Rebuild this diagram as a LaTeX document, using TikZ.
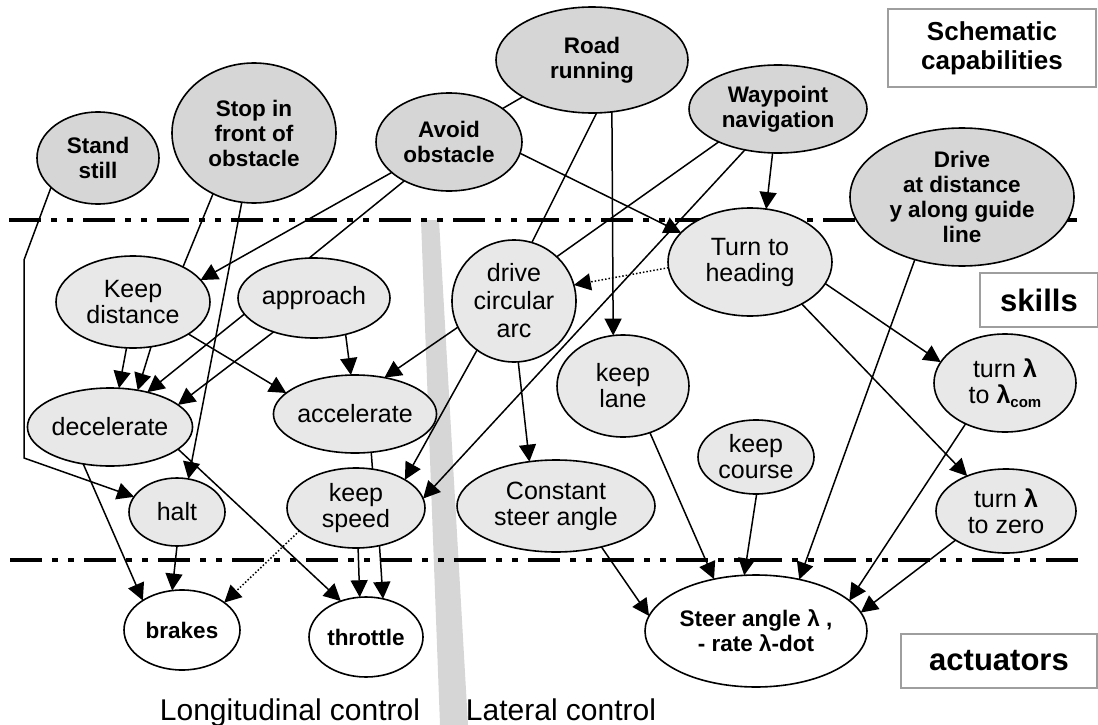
\documentclass[tikz,border=0pt]{standalone}
\usepackage{fontspec}
\setmainfont{Liberation Sans}
\usetikzlibrary{shapes.geometric,arrows.meta}

\newcommand\fsz[2]{\fontsize{#1}{#2}\selectfont}
\newcommand\lam{{\bfseries λ}}
\definecolor{capfill}{gray}{0.84}
\definecolor{sklfill}{gray}{0.91}

\begin{document}
\begin{tikzpicture}[x=1pt,y=-1pt,
  every node/.style={inner sep=0pt, outer sep=0pt, align=center},
  bub/.style={ellipse, draw=black, line width=1.6pt},
  capbub/.style={bub, fill=capfill, font=\fsz{22.5}{25}\bfseries},
  sklbub/.style={bub, fill=sklfill, font=\fsz{25}{26}},
  actbub/.style={bub, fill=white, font=\fsz{22.5}{25}\bfseries},
  link/.style={line width=1.5pt},
  arr/.style={link, -{Triangle[length=17pt,width=17pt]}},
  darr/.style={arr, dotted},
  lvl/.style={line width=4pt, dash pattern=on 32pt off 10pt on 6pt off 10pt on 6pt off 10pt},
  tagbox/.style={draw=black!38, line width=1.5pt, fill=white}
]
\useasboundingbox (0,0) rectangle (1098,725);

% band separating longitudinal and lateral control
\fill[black!16] (421,220) -- (439,220) -- (468,725) -- (440,725) -- cycle;

% level separators
\draw[lvl] (9,220) -- (1082,220);
\draw[lvl] (10,560) -- (1085,560);

% level labels
\node[tagbox, minimum width=208pt, minimum height=78pt, font=\fsz{26}{29}\bfseries] (lblcap) at (992,48) {Schematic\\capabilities};
\node[tagbox, minimum width=118pt, minimum height=54pt, font=\fsz{31}{32}\bfseries] (lblskl) at (1039,300) {skills};
\node[tagbox, minimum width=196pt, minimum height=54pt, font=\fsz{31}{32}\bfseries] (lblact) at (999,661) {actuators};

% schematic capabilities
\node[capbub, minimum width=122pt, minimum height=92pt]  (ss) at (98,158)  {Stand\\still};
\node[capbub, minimum width=164pt, minimum height=140pt] (sf) at (254,133) {Stop in\\front of\\obstacle};
\node[capbub, minimum width=146pt, minimum height=98pt]  (ao) at (449,142) {Avoid\\obstacle};
\node[capbub, minimum width=192pt, minimum height=106pt] (rr) at (592,60)  {Road\\running};
\node[capbub, minimum width=178pt, minimum height=88pt]  (wn) at (778,109) {Waypoint\\navigation};
\node[capbub, minimum width=224pt, minimum height=138pt] (dd) at (962,197) {Drive\\at distance\\y along guide\\line};

% skills
\node[sklbub, minimum width=154pt, minimum height=92pt]  (kd) at (133,302) {Keep\\distance};
\node[sklbub, minimum width=152pt, minimum height=80pt]  (ap) at (314,298) {approach};
\node[sklbub, minimum width=124pt, minimum height=122pt, font=\fsz{25}{28}] (dc) at (514,301) {drive\\circular\\arc};
\node[sklbub, minimum width=164pt, minimum height=108pt] (th) at (750,262) {Turn to\\heading};
\node[sklbub, minimum width=150pt, minimum height=78pt]  (de) at (110,427) {decelerate};
\node[sklbub, minimum width=152pt, minimum height=78pt]  (ac) at (355,414) {accelerate};
\node[sklbub, minimum width=132pt, minimum height=102pt] (kl) at (623,386) {keep\\lane};
\node[sklbub, minimum width=142pt, minimum height=98pt]  (tc) at (1005,383) {turn \lam\\to \lam\raisebox{-4pt}{\fsz{15}{15}\bfseries com}};
\node[sklbub, minimum width=96pt,  minimum height=68pt]  (ha) at (177,512) {halt};
\node[sklbub, minimum width=138pt, minimum height=80pt]  (ks) at (356,508) {keep\\speed};
\node[sklbub, minimum width=198pt, minimum height=92pt]  (cs) at (556,506) {Constant\\steer angle};
\node[sklbub, minimum width=116pt, minimum height=74pt]  (kc) at (756,457) {keep\\course};
\node[sklbub, minimum width=140pt, minimum height=84pt]  (tz) at (1006,511) {turn \lam\\to zero};

% actuators
\node[actbub, minimum width=116pt, minimum height=80pt]  (br) at (182,630) {brakes};
\node[actbub, minimum width=114pt, minimum height=80pt]  (tr) at (366,637) {throttle};
\node[actbub, minimum width=222pt, minimum height=112pt] (sa) at (756,631) {Steer angle λ ,\\- rate λ-dot};

% control domains
\node[font=\fsz{30}{32}, anchor=base] (lon) at (290,720) {Longitudinal control};
\node[font=\fsz{30}{32}, anchor=base] (lat) at (561,720) {Lateral control};

% routing points of the stand-still link
\coordinate (b1) at (24,260);
\coordinate (b2) at (24,458);

% links from schematic capabilities
\draw[arr]  (ss.212) -- (b1) -- (b2) -- (ha);
\draw[link] (sf.236) -- (kd.35);
\draw[arr]  (sf.260) -- (ha.71);
\draw[arr]  (ao.208) -- (kd.18);
\draw[link] (ao.221) -- (ap.97);
\draw[arr]  (ao.351) -- (th.157);
\draw[link] (rr.208) -- (ao.32);
\draw[link] (rr.275) -- (dc.73);
\draw[arr]  (rr.291) -- (kl.101);
\draw[link] (wn.209) -- (dc.46);
\draw[arr]  (wn.231) -- (ks.8);
\draw[arr]  (wn.263) -- (th.73);
\draw[arr]  (dd.233) -- (sa.50);

% links between skills
\draw[darr] (th.184) -- (dc.15);
\draw[arr]  (th.344) -- (tc.162);
\draw[arr]  (th.321) -- (tz.138);
\draw[arr]  (dc.205) -- (ac.51);
\draw[arr]  (dc.233) -- (ks.30);
\draw[arr]  (dc.274) -- (cs.121);
\draw[arr]  (kd.262) -- (de.77);
\draw[arr]  (kd.292) -- (de.53);
\draw[arr]  (kd.330) -- (ac.163);
\draw[arr]  (ap.193) -- (de.43);
\draw[arr]  (ap.220) -- (de.18);
\draw[arr]  (ap.311) -- (ac.96);
\draw[link] (ac.293) -- (ks.67);

% links to actuators
\draw[arr]  (de.234) -- (br.143);
\draw[arr]  (de.342) -- (tr.125);
\draw[arr]  (ha.270) -- (br.104);
\draw[darr] (ks.202) -- (br.33);
\draw[arr]  (ks.273) -- (tr.99);
\draw[arr]  (ks.302) -- (tr.66);
\draw[arr]  (kl.300) -- (sa.129);
\draw[arr]  (kc.271) -- (sa.102);
\draw[arr]  (cs.318) -- (sa.172);
\draw[arr]  (tc.226) -- (sa.18);
\draw[arr]  (tz.210) -- (sa.10);
\end{tikzpicture}
\end{document}
